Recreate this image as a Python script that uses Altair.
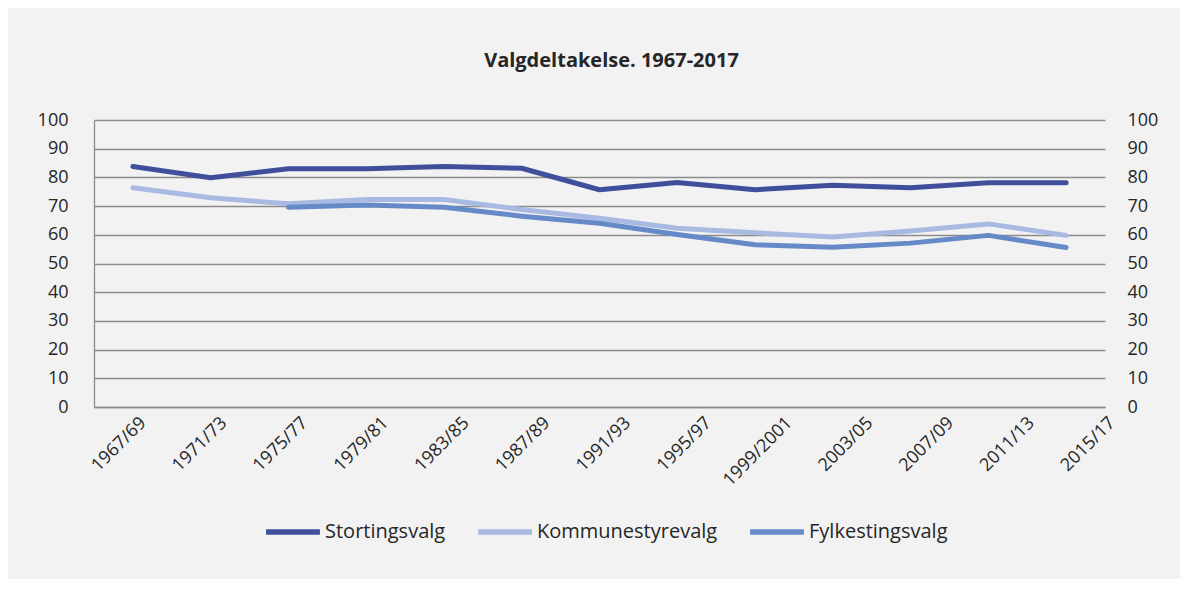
import altair as alt
import pandas as pd

periods = ["1967/69", "1971/73", "1975/77", "1979/81", "1983/85", "1987/89",
           "1991/93", "1995/97", "1999/2001", "2003/05", "2007/09", "2011/13", "2015/17"]
stortingsvalg = [83.8, 79.9, 83.0, 83.0, 83.8, 83.2, 75.7, 78.2, 75.7, 77.3, 76.4, 78.1, 78.1]
kommunestyrevalg = [76.4, 72.9, 70.8, 72.3, 72.3, 68.8, 65.8, 62.3, 60.7, 59.2, 61.3, 63.8, 59.8]
fylkestingsvalg = [None, None, 69.6, 70.4, 69.6, 66.5, 64.0, 60.1, 56.5, 55.7, 57.1, 59.8, 55.6]
series_names = ["Stortingsvalg", "Kommunestyrevalg", "Fylkestingsvalg"]
series_colors = ["#3f4f9c", "#a9bae2", "#6689c8"]
y_ticks = [0, 10, 20, 30, 40, 50, 60, 70, 80, 90, 100]

rows = []
for name, vals in zip(series_names, [stortingsvalg, kommunestyrevalg, fylkestingsvalg]):
    for p, v in zip(periods, vals):
        rows.append({"periode": p, "serie": name, "verdi": v})
df = pd.DataFrame(rows)

FONT = "Open Sans"
TXT = "#262626"
GRID = "#8c8c8c"

x_enc = alt.X(
    "periode:N",
    sort=periods,
    scale=alt.Scale(domain=periods, type="point", padding=0.5),
    axis=alt.Axis(
        title=None, labelAngle=-45, labelAlign="right", labelBaseline="middle",
        labelOffset={"expr": "10 + 36*datum.index"}, labelPadding=13,
        ticks=False, grid=False, domain=True, domainColor=GRID, domainWidth=1.3,
        labelFont=FONT, labelFontSize=18, labelColor=TXT, labelOverlap=False,
    ),
)

lines = alt.Chart(df).mark_line(strokeWidth=5, strokeCap="round", strokeJoin="round").encode(
    x=x_enc,
    y=alt.Y(
        "verdi:Q",
        scale=alt.Scale(domain=[0, 100], nice=False),
        axis=alt.Axis(
            values=y_ticks, title=None, grid=True, gridColor=GRID, gridWidth=1.3,
            domain=True, domainColor=GRID, domainWidth=1.3, ticks=False,
            labelPadding=26, labelFont=FONT, labelFontSize=18, labelColor=TXT,
        ),
    ),
    color=alt.Color(
        "serie:N",
        scale=alt.Scale(domain=series_names, range=series_colors),
        sort=series_names,
        legend=alt.Legend(
            orient="none", legendX=169, legendY=382, direction="horizontal",
            title=None, symbolType="stroke", symbolSize=2900, symbolStrokeWidth=5.5,
            labelFont=FONT, labelFontSize=20, labelColor=TXT, labelOffset=2,
            labelLimit=0, columnPadding=21,
        ),
    ),
)

right = alt.Chart(df).mark_line(opacity=0).encode(
    x=x_enc,
    y=alt.Y(
        "verdi:Q",
        scale=alt.Scale(domain=[0, 100], nice=False),
        axis=alt.Axis(
            orient="right", values=y_ticks, title=None, grid=False, domain=False,
            ticks=False, labelPadding=22, labelAlign="left",
            labelFont=FONT, labelFontSize=18, labelColor=TXT,
        ),
    ),
)

chart = alt.layer(lines, right).resolve_scale(y="independent").properties(
    width=1011,
    height=287,
    padding={"left": 86, "top": 112, "right": 75, "bottom": 172},
    autosize=alt.AutoSizeParams(type="none"),
    title=alt.TitleParams(
        "Valgdeltakelse. 1967-2017", font=FONT, fontSize=20, fontWeight="bold",
        color="#262626", anchor="middle", frame="group", dx=12, offset=40,
    ),
).configure(background="#f2f2f2").configure_view(stroke=None)

chart.save("out.html", embed_options={"renderer": "svg", "actions": False})
